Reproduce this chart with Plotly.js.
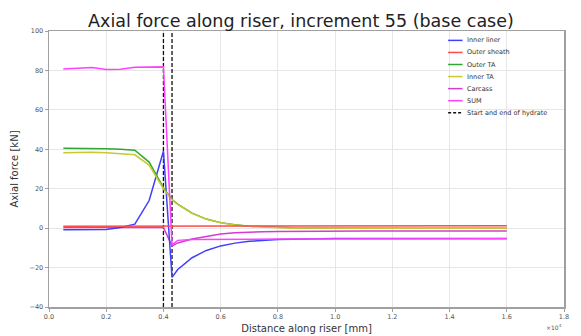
<!DOCTYPE html>
<html>
<head>
<meta charset="utf-8">
<script src="https://cdn.plot.ly/plotly-3.0.1.min.js"></script>
<style>html,body{margin:0;padding:0;background:#fff;}#chart{width:581px;height:336px;}</style>
</head>
<body>
<div id="chart"></div>
<script>
// Distance along riser [mm]
var distance = [500,1000,1500,2000,2500,3000,3500,4000,4300,4500,5000,5500,6000,6500,7000,7500,8000,8500,9000,9500,10000,10500,11000,11500,12000,12500,13000,13500,14000,14500,15000,15500,16000];
var innerLiner = [-0.8,-0.8,-0.8,-0.7,0.3,2,14,39,-25,-21,-15,-11.3,-9,-7.6,-6.7,-6.1,-5.8,-5.6,-5.4,-5.3,-5.3,-5.2,-5.2,-5.2,-5.2,-5.2,-5.2,-5.2,-5.2,-5.2,-5.2,-5.2,-5.2];
var outerSheath = [1.0,1.0,1.0,1.0,1.0,1.0,1.0,1.0,1.0,1.0,1.0,1.0,1.0,1.1,1.1,1.1,1.1,1.1,1.1,1.1,1.1,1.2,1.2,1.2,1.2,1.2,1.2,1.2,1.2,1.2,1.2,1.2,1.2];
var outerTA = [40.5,40.5,40.5,40.3,40,39.5,33.5,20.5,14.5,12.2,7.6,4.6,2.8,1.7,1,0.6,0.3,0.15,0.05,0,0,0,0,0,0,0,0,0,0,0,0,0,0];
var innerTA = [38.3,38.5,38.5,38.3,37.8,37.2,32,20,14.3,12,7.5,4.5,2.7,1.6,0.9,0.5,0.2,0.1,0,-0.1,-0.1,-0.1,-0.1,-0.1,-0.1,-0.1,-0.1,-0.1,-0.1,-0.1,-0.1,-0.1,-0.1];
var carcass = [0.3,0.3,0.3,0.3,0.3,0.3,0.3,0.3,-9,-7.5,-5.5,-4.1,-3,-2.4,-2,-1.8,-1.7,-1.6,-1.5,-1.5,-1.4,-1.4,-1.4,-1.4,-1.4,-1.4,-1.4,-1.4,-1.4,-1.4,-1.4,-1.4,-1.4];
var sumForce = [80.7,81.2,81.5,80.5,80.6,81.6,81.8,81.8,-8.5,-6.2,-5.8,-5.7,-5.6,-5.6,-5.5,-5.5,-5.5,-5.5,-5.5,-5.4,-5.4,-5.4,-5.4,-5.4,-5.4,-5.4,-5.4,-5.4,-5.4,-5.4,-5.4,-5.4,-5.4];
var hydrateStart = 4000, hydrateEnd = 4300;
var seriesNames = ['Inner liner','Outer sheath','Outer TA','Inner TA','Carcass','SUM'];
var seriesColors = ['#3f3fff','#ff4a4a','#2fa82f','#c8c832','#d23cd2','#ff40ff'];
var hydrateLabel = 'Start and end of hydrate';
var xTickVals = [0,2000,4000,6000,8000,10000,12000,14000,16000,18000];
var xTickText = ['0.0','0.2','0.4','0.6','0.8','1.0','1.2','1.4','1.6','1.8'];
var yTickVals = [-40,-20,0,20,40,60,80,100];

var seriesData = [innerLiner, outerSheath, outerTA, innerTA, carcass, sumForce];
var FONT = '"DejaVu Sans", sans-serif';
var traces = [];
var yRange = [-40, 100];
[hydrateStart, hydrateEnd].forEach(function (xv) {
  traces.push({x: [xv, xv], y: yRange, mode: 'lines', showlegend: false,
    line: {color: '#111', width: 1.3, dash: '4px,2px'}, hoverinfo: 'skip'});
});
var order = [4,0,2,3,1,5];
order.forEach(function (i) {
  traces.push({x: distance, y: seriesData[i], name: seriesNames[i], mode: 'lines',
    showlegend: false, line: {color: seriesColors[i], width: 1.5}});
});

// compact legend built from the series names
var shapes = [], annotations = [];
var legX0 = 0.775, legX1 = 0.803, legTextX = 0.807, legTop = 0.966, legStep = 0.0437;
var legendEntries = seriesNames.map(function (n, i) { return {name: n, color: seriesColors[i], dash: 'solid'}; });
legendEntries.push({name: hydrateLabel, color: '#111', dash: '3px,2px'});
legendEntries.forEach(function (e, k) {
  var yy = legTop - k * legStep;
  shapes.push({type: 'line', xref: 'paper', yref: 'paper', x0: legX0, x1: legX1, y0: yy, y1: yy,
    line: {color: e.color, width: 1.5, dash: e.dash}});
  annotations.push({xref: 'paper', yref: 'paper', x: legTextX, y: yy, xanchor: 'left', yanchor: 'middle',
    text: e.name, showarrow: false, font: {family: FONT, size: 6.5, color: '#333'}});
});
annotations.push({xref: 'paper', yref: 'paper', x: 1.0, y: -0.072, xanchor: 'right', yanchor: 'middle',
  text: '×10<sup>4</sup>', showarrow: false, font: {family: FONT, size: 6, color: '#555'}});

var layout = {
  width: 581, height: 336,
  margin: {l: 49, r: 17, t: 31, b: 29, pad: 0},
  paper_bgcolor: '#fff', plot_bgcolor: '#fff',
  title: {text: 'Axial force along riser, increment 55 (base case)', x: 0.518, xanchor: 'center', y: 0.938, yanchor: 'middle',
    font: {family: FONT, size: 17.5, color: '#222'}},
  xaxis: {range: [0, 18000], tickvals: xTickVals, ticktext: xTickText, showgrid: true, gridcolor: '#e6e6e6', gridwidth: 1,
    zeroline: false, showline: true, mirror: true, linecolor: '#a0a0a0', linewidth: 1.5,
    ticks: 'outside', ticklen: 3, tickcolor: '#a0a0a0', tickfont: {family: FONT, size: 6.5, color: '#555'},
    title: {text: 'Distance along riser [mm]', standoff: 4, font: {family: FONT, size: 10, color: '#333'}}},
  yaxis: {range: yRange, tickvals: yTickVals, showgrid: true, gridcolor: '#e6e6e6', gridwidth: 1,
    zeroline: false, showline: true, mirror: true, linecolor: '#a0a0a0', linewidth: 1.5,
    ticks: 'outside', ticklen: 3, tickcolor: '#a0a0a0', tickfont: {family: FONT, size: 6.5, color: '#555'},
    title: {text: 'Axial force [kN]', standoff: 9, font: {family: FONT, size: 10, color: '#333'}}},
  showlegend: false,
  shapes: shapes, annotations: annotations
};
Plotly.newPlot('chart', traces, layout, {displayModeBar: false, staticPlot: true});
</script>
</body>
</html>
